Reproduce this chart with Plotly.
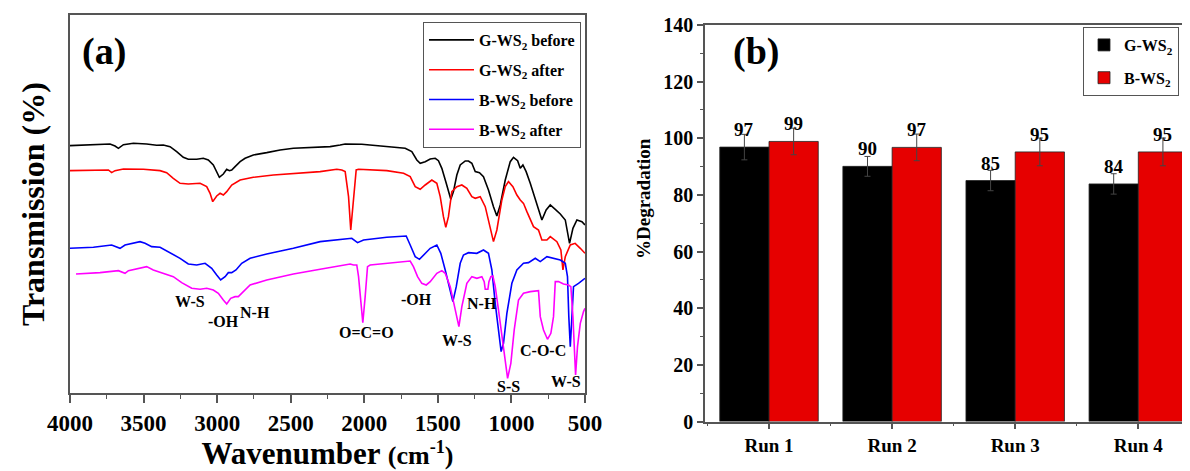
import plotly.graph_objects as go

# ---------------- Panel (a): FTIR spectra -------------
black_wn = [4000, 3841, 3728, 3694, 3671, 3637, 3569, 3479, 3411, 3366, 3320, 3275, 3230, 3196, 3139, 3094,
            3060, 3026, 3003, 2985, 2958, 2935, 2917, 2901, 2878, 2844, 2810, 2754, 2663, 2572, 2482, 2368,
            2232, 2164, 2130, 2017, 1847, 1722, 1677, 1643, 1620, 1586, 1552, 1518, 1496, 1473, 1443, 1428,
            1412, 1394, 1371, 1348, 1314, 1292, 1269, 1246, 1217, 1190, 1156, 1122, 1099, 1076, 1042, 1008,
            986, 958, 940, 922, 900, 872, 838, 793, 764, 736, 702, 668, 634, 605, 582, 555, 521, 500]
black_T = [74.3, 74.5, 74.8, 74.2, 73.5, 74.6, 75.0, 74.8, 74.4, 74.5, 74.0, 72.5, 70.8, 70.2, 70.2, 70.5,
           70.0, 68.5, 66.5, 64.8, 65.8, 67.2, 66.8, 67.0, 68.0, 69.5, 70.5, 71.5, 72.2, 73.0, 73.5, 73.8,
           74.0, 74.5, 74.8, 74.7, 74.0, 73.5, 72.5, 70.0, 69.0, 69.5, 70.3, 70.5, 69.8, 67.5, 63.0, 60.5,
           58.2, 60.5, 65.5, 68.5, 69.7, 69.7, 69.0, 66.5, 66.2, 65.0, 61.0, 56.0, 53.2, 56.5, 64.0, 69.5,
           70.8, 69.8, 67.5, 68.5, 66.5, 63.0, 58.5, 52.0, 55.0, 56.5, 55.2, 53.8, 52.0, 45.0, 49.5, 52.0,
           51.5, 50.5]

red_wn = [4000, 3796, 3739, 3717, 3694, 3637, 3501, 3388, 3343, 3298, 3252, 3196, 3116, 3071, 3048, 3030,
          3003, 2980, 2958, 2935, 2901, 2844, 2754, 2618, 2482, 2300, 2187, 2153, 2130, 2107, 2092, 2073,
          2055, 2039, 1847, 1733, 1688, 1654, 1620, 1586, 1541, 1507, 1484, 1462, 1446, 1428, 1405, 1371,
          1337, 1303, 1269, 1246, 1212, 1178, 1144, 1122, 1099, 1065, 1042, 1020, 990, 963, 940, 918,
          895, 850, 816, 793, 759, 736, 691, 664, 650, 634, 600, 567, 532, 500]
red_T = [66.8, 67.0, 67.0, 66.2, 66.8, 67.3, 67.2, 66.8, 66.2, 64.5, 63.0, 62.8, 63.0, 62.0, 60.0, 57.5,
         59.2, 60.0, 59.5, 60.5, 62.5, 64.0, 64.8, 65.5, 66.0, 66.5, 67.2, 67.0, 66.5, 59.0, 49.0, 59.0,
         67.0, 67.2, 66.8, 66.0, 65.0, 62.0, 61.2, 62.5, 64.0, 63.0, 59.0, 53.0, 49.8, 53.0, 60.5, 62.0,
         62.5, 61.5, 59.0, 58.5, 59.0, 56.0, 50.0, 45.5, 49.0, 58.0, 62.0, 63.5, 62.0, 59.5, 58.0, 57.0,
         54.5, 50.0, 49.0, 46.0, 46.0, 47.0, 45.5, 43.0, 37.0, 41.0, 44.5, 45.0, 43.5, 42.0]

blue_wn = [4000, 3841, 3717, 3683, 3660, 3626, 3524, 3490, 3445, 3388, 3320, 3252, 3196, 3139, 3082, 3037,
           3003, 2976, 2946, 2924, 2901, 2872, 2833, 2776, 2663, 2482, 2300, 2164, 2085, 2046, 2005, 1847,
           1733, 1715, 1688, 1654, 1625, 1598, 1552, 1507, 1480, 1450, 1421, 1398, 1375, 1348, 1326, 1292,
           1235, 1190, 1156, 1133, 1110, 1088, 1070, 1054, 1031, 997, 963, 918, 884, 838, 804, 759,
           714, 668, 634, 619, 610, 600, 589, 578, 544, 510, 500]
blue_T = [43.5, 43.8, 44.5, 43.8, 43.5, 44.5, 45.5, 45.0, 44.0, 43.8, 42.2, 40.5, 38.8, 38.5, 39.0, 37.5,
          35.5, 34.0, 35.0, 36.2, 36.2, 37.0, 39.0, 40.5, 41.8, 43.5, 45.5, 46.0, 46.5, 45.2, 46.0, 46.8,
          47.2, 47.2, 44.5, 41.0, 40.2, 41.5, 43.5, 44.5, 42.0, 37.0, 32.0, 27.5, 32.0, 39.0, 41.5, 42.2,
          42.0, 43.0, 42.0, 37.0, 27.0, 18.0, 12.5, 15.0, 24.0, 33.0, 37.0, 39.0, 39.2, 40.5, 39.5, 41.0,
          40.5, 40.0, 39.0, 35.0, 23.0, 14.0, 23.0, 32.0, 33.0, 34.0, 34.5]

mag_wn = [3959, 3796, 3671, 3649, 3626, 3603, 3479, 3434, 3366, 3298, 3241, 3173, 3116, 3071, 3026, 2992,
          2958, 2935, 2908, 2878, 2856, 2822, 2776, 2663, 2482, 2300, 2164, 2096, 2073, 2051, 2039, 2024,
          2010, 1994, 1978, 1960, 1847, 1688, 1666, 1638, 1609, 1579, 1552, 1507, 1473, 1450, 1416, 1389,
          1371, 1357, 1337, 1303, 1269, 1235, 1201, 1185, 1178, 1160, 1153, 1140, 1126, 1110, 1088, 1058,
          1026, 1004, 981, 952, 918, 872, 816, 804, 782, 755, 732, 714, 702, 680, 646, 612,
          596, 582, 573, 564, 551, 532, 510, 500]
mag_T = [35.8, 36.2, 36.8, 36.5, 36.0, 36.8, 38.0, 37.0, 36.0, 35.0, 33.2, 31.5, 31.2, 31.5, 31.0, 30.0,
         28.0, 26.8, 28.5, 29.0, 29.0, 30.5, 32.5, 34.0, 35.8, 37.2, 38.2, 38.8, 38.5, 38.5, 35.0, 27.0,
         21.2, 29.0, 38.0, 38.5, 39.0, 39.7, 38.0, 35.0, 33.0, 32.5, 33.5, 36.0, 36.8, 36.0, 32.0, 26.0,
         23.0, 20.0, 26.0, 33.0, 35.0, 34.5, 35.0, 33.5, 31.2, 31.2, 33.5, 35.0, 35.2, 32.0, 25.0, 15.0,
         4.5, 9.0, 19.0, 28.0, 30.0, 30.5, 30.8, 23.0, 19.0, 16.2, 18.0, 23.0, 33.5, 33.5, 32.8, 32.5,
         32.0, 23.0, 11.0, 5.5, 14.0, 21.0, 24.5, 25.5]

spectra_names = ["G-WS<sub>2</sub> before", "G-WS<sub>2</sub> after",
                 "B-WS<sub>2</sub> before", "B-WS<sub>2</sub> after"]
spectra_colors = ["#000000", "#ff0000", "#0000ff", "#ff00ff"]

peak_labels = ["W-S", "-OH", "N-H", "O=C=O", "-OH", "W-S", "N-H", "S-S", "C-O-C", "W-S"]
peak_wn = [3184, 2958, 2742, 1987, 1643, 1371, 1201, 1020, 786, 628]
peak_T = [27.5, 21.5, 24.2, 18.2, 28.0, 15.8, 26.8, 2.0, 12.8, 3.5]

wn_ticks = [4000, 3500, 3000, 2500, 2000, 1500, 1000, 500]

# ---------------- Panel (b): degradation per run -------------
runs = ["Run 1", "Run 2", "Run 3", "Run 4"]
g_deg = [96.9, 90.1, 85.1, 83.9]
b_deg = [98.9, 96.8, 95.2, 95.2]
g_err = [4.5, 3.5, 3.6, 3.6]
b_err = [4.7, 4.7, 4.9, 4.9]
g_lbl = ["97", "90", "85", "84"]
b_lbl = ["99", "97", "95", "95"]

FONT = "Liberation Serif, Times New Roman, serif"
AX = "#555555"

# page is shown with the browser's default 8px body margin; lay out in page pixels
OFF = 8
FW, FH = 1190 - OFF, 471 - OFF


def fx(p):
    return (p - OFF) / FW


def fy(p):
    return 1 - (p - OFF) / FH


fig = go.Figure()

for wn, T, name, col in zip([black_wn, red_wn, blue_wn, mag_wn], [black_T, red_T, blue_T, mag_T],
                            spectra_names, spectra_colors):
    fig.add_trace(go.Scatter(x=wn, y=T, mode="lines", name=name, legend="legend",
                             legendgroup=name, line=dict(color=col, width=1.6),
                             xaxis="x", yaxis="y"))

run_idx = list(range(len(runs)))
fig.add_trace(go.Bar(x=run_idx, y=g_deg, name="G-WS<sub>2</sub>", legend="legend2",
                     legendgroup="g",
                     marker=dict(color="#000000", line=dict(color="#222222", width=0.8)),
                     error_y=dict(type="data", array=g_err, color="#444444", thickness=1, width=3),
                     xaxis="x2", yaxis="y2"))
fig.add_trace(go.Bar(x=run_idx, y=b_deg, name="B-WS<sub>2</sub>", legend="legend2",
                     legendgroup="b",
                     marker=dict(color="#e60000", line=dict(color="#222222", width=0.8)),
                     error_y=dict(type="data", array=b_err, color="#444444", thickness=1, width=3),
                     xaxis="x2", yaxis="y2"))

annotations = []
for lab, w, t in zip(peak_labels, peak_wn, peak_T):
    annotations.append(dict(x=w, y=t, xref="x", yref="y", text=lab, showarrow=False,
                            font=dict(family=FONT, size=16, color="#000", weight="bold")))
for i, (v, lab) in enumerate(zip(g_deg, g_lbl)):
    annotations.append(dict(x=i - 0.2, y=v, xref="x2", yref="y2", text=lab, showarrow=False,
                            yanchor="bottom", yshift=5,
                            font=dict(family=FONT, size=19, color="#000", weight="bold")))
for i, (v, lab) in enumerate(zip(b_deg, b_lbl)):
    annotations.append(dict(x=i + 0.2, y=v, xref="x2", yref="y2", text=lab, showarrow=False,
                            yanchor="bottom", yshift=5,
                            font=dict(family=FONT, size=19, color="#000", weight="bold")))
annotations.append(dict(x=fx(80), y=fy(28), xref="paper", yref="paper", text="(a)",
                        showarrow=False, xanchor="left", yanchor="top",
                        font=dict(family=FONT, size=38, color="#000", weight="bold")))
annotations.append(dict(x=fx(731), y=fy(28), xref="paper", yref="paper", text="(b)",
                        showarrow=False, xanchor="left", yanchor="top",
                        font=dict(family=FONT, size=38, color="#000", weight="bold")))
annotations.append(dict(x=fx(643), y=fy(199), xref="paper", yref="paper", text="%Degradation",
                        showarrow=False, textangle=-90, xanchor="center", yanchor="middle",
                        font=dict(family=FONT, size=19, color="#000", weight="bold")))

fig.update_layout(
    width=FW, height=FH, margin=dict(l=0, r=0, t=0, b=0, autoexpand=False),
    paper_bgcolor="white", plot_bgcolor="white",
    font=dict(family=FONT, color="#000"),
    barmode="group", bargap=0.2, bargroupgap=0,
    annotations=annotations,
    xaxis=dict(domain=[fx(70), fx(585)], range=[4000, 500], anchor="y", automargin=False,
               tickmode="array", tickvals=wn_ticks, ticks="outside", ticklen=8, tickwidth=1.5,
               tickcolor=AX, minor=dict(dtick=250, ticks="outside", ticklen=4, tickcolor=AX, tickwidth=1.2),
               showline=True, linecolor=AX, linewidth=1.5, mirror=True, showgrid=False, zeroline=False,
               tickfont=dict(family=FONT, size=23, color="#000", weight="bold"),
               title=dict(text="Wavenumber <span style='font-size:26px'>(cm<sup>-1</sup>)</span>",
                          font=dict(family=FONT, size=31, color="#000", weight="bold"), standoff=5)),
    yaxis=dict(domain=[fy(393.3), fy(15)], range=[0, 113.5], anchor="x", automargin=False,
               showticklabels=False, ticks="", showline=True, linecolor=AX, linewidth=1.5, mirror=True,
               showgrid=False, zeroline=False,
               title=dict(text="Transmission (%)", standoff=14,
                          font=dict(family=FONT, size=32, color="#000", weight="bold"))),
    xaxis2=dict(domain=[fx(705), 1.0], range=[-0.52, 3.42], anchor="y2", automargin=False,
                tickmode="array", tickvals=run_idx, ticktext=runs, ticks="outside", ticklen=6,
                tickwidth=1.5, tickcolor=AX,
                minor=dict(dtick=0.5, tick0=0, ticks="outside", ticklen=3, tickcolor=AX, tickwidth=1.2),
                showline=True, linecolor=AX, linewidth=1.5, mirror=True, showgrid=False, zeroline=False,
                tickfont=dict(family=FONT, size=19, color="#000", weight="bold")),
    yaxis2=dict(domain=[fy(421.6), fy(25)], range=[0, 140], anchor="x2", automargin=False,
                dtick=20, ticks="outside", ticklen=6, tickwidth=1.5, tickcolor=AX,
                minor=dict(dtick=10, ticks="outside", ticklen=3, tickcolor=AX, tickwidth=1.2),
                showline=True, linecolor=AX, linewidth=1.5, showgrid=False, zeroline=False,
                tickfont=dict(family=FONT, size=20, color="#000", weight="bold")),
    legend=dict(x=fx(423), y=fy(22), xanchor="left", yanchor="top",
                bgcolor="white", bordercolor=AX, borderwidth=1, itemwidth=45, tracegroupgap=6,
                font=dict(family=FONT, size=16, color="#000", weight="bold")),
    legend2=dict(x=fx(1083), y=fy(27), xanchor="left", yanchor="top",
                 bgcolor="white", bordercolor=AX, borderwidth=1, tracegroupgap=9,
                 font=dict(family=FONT, size=16, color="#000", weight="bold")),
    showlegend=True,
)

fig.write_html("out.html")
